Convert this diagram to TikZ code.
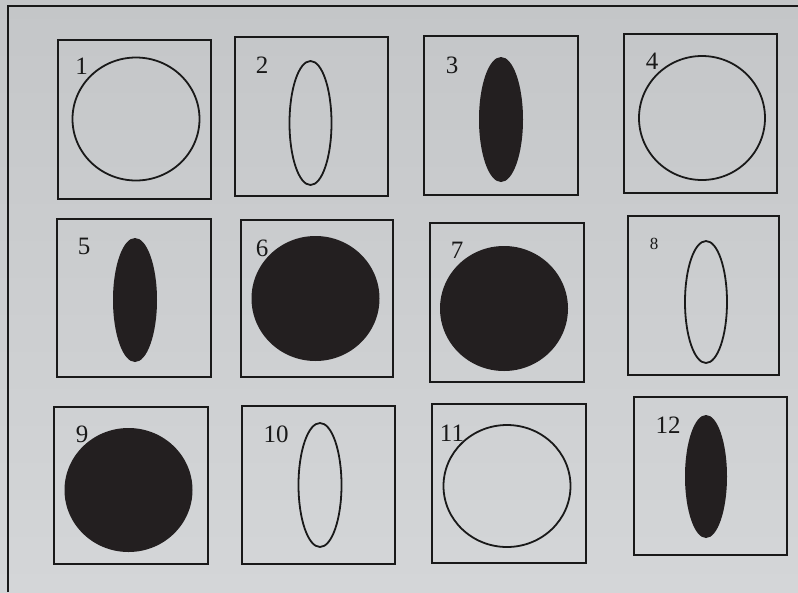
\documentclass[tikz,border=0pt]{standalone}
\usepackage{fontspec}
\setmainfont{Liberation Serif}
\begin{document}
\begin{tikzpicture}[x=1pt,y=-1pt,
  panel/.style={draw=black!90,line width=2.2pt},
  ring/.style={draw=black!90,line width=1.8pt},
  blob/.style={fill=ink},
  num/.style={inner sep=0pt,font=\fontsize{25}{25}\selectfont,text=black!90},
  smallnum/.style={inner sep=0pt,font=\fontsize{17}{17}\selectfont,text=black!90}]
\definecolor{ink}{HTML}{231F20}
\definecolor{bgtop}{HTML}{C4C6C8}
\definecolor{bgbot}{HTML}{D4D6D8}
\useasboundingbox (0,0) rectangle (798,592);
\shade[top color=bgtop,bottom color=bgbot] (0,0) rectangle (798,592);
\draw[line width=2.4pt,black!90] (8,592) -- (8,6) -- (798,6);
% row 1
\draw[panel] (58,40) rectangle (211,199);
\draw[ring] (136,119) ellipse [x radius=63.5,y radius=61.5];
\node[num] (n1) at (81.5,66.5) {1};
\draw[panel] (235,37) rectangle (388,196);
\draw[ring] (310.5,123) ellipse [x radius=21,y radius=62];
\node[num] (n2) at (262,65) {2};
\draw[panel] (424,36) rectangle (578,195);
\fill[blob] (501,119.5) ellipse [x radius=22,y radius=62.5];
\node[num] (n3) at (452,65) {3};
\draw[panel] (624,34) rectangle (777,193);
\draw[ring] (702,118) ellipse [x radius=63,y radius=62];
\node[num] (n4) at (652,61.5) {4};
% row 2
\draw[panel] (57,219) rectangle (211,377);
\fill[blob] (135,300) ellipse [x radius=22,y radius=62];
\node[num] (n5) at (84,246) {5};
\draw[panel] (241,220) rectangle (393,377);
\fill[blob] (315.5,298.5) ellipse [x radius=64,y radius=62.5];
\node[num] (n6) at (262,248) {6};
\draw[panel] (430,223) rectangle (584,382);
\fill[blob] (504,308.5) ellipse [x radius=64,y radius=62.5];
\node[num] (n7) at (457,250) {7};
\draw[panel] (628,216) rectangle (779,375);
\draw[ring] (706,302) ellipse [x radius=21,y radius=61];
\node[smallnum] (n8) at (654,244) {8};
% row 3
\draw[panel] (54,407) rectangle (208,564);
\fill[blob] (128.5,490) ellipse [x radius=64,y radius=62];
\node[num] (n9) at (82,434) {9};
\draw[panel] (242,406) rectangle (395,564);
\draw[ring] (320,485) ellipse [x radius=21.5,y radius=62];
\node[num] (n10) at (276,434) {10};
\draw[panel] (432,404) rectangle (586,563);
\draw[ring] (507,486) ellipse [x radius=63.5,y radius=61];
\node[num] (n11) at (452,433) {11};
\draw[panel] (634,397) rectangle (787,555);
\fill[blob] (706,476.5) ellipse [x radius=21,y radius=61.5];
\node[num] (n12) at (668,425) {12};
\end{tikzpicture}
\end{document}
